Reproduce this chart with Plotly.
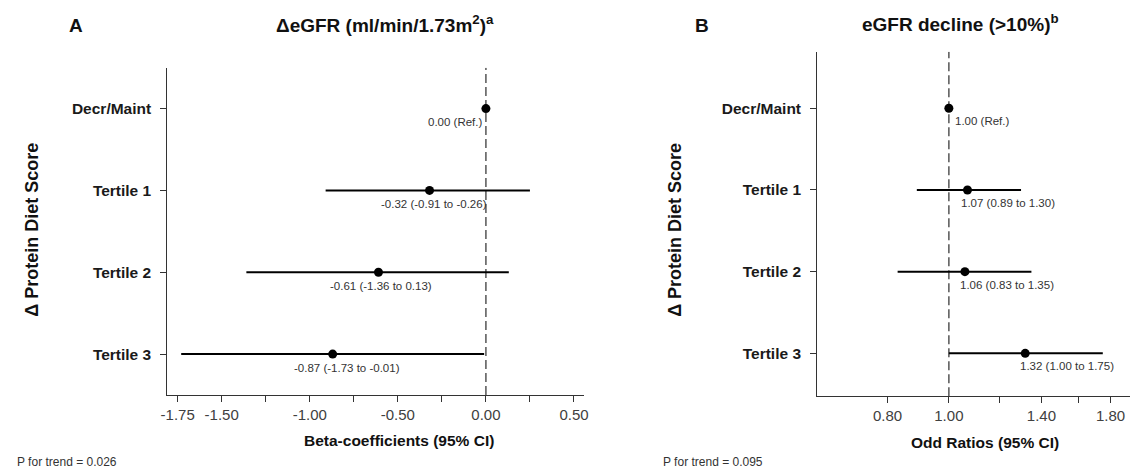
import numpy as np
import plotly.graph_objects as go

# ---------------- data ----------------
categories = ["Decr/Maint", "Tertile 1", "Tertile 2", "Tertile 3"]

beta_est = [0.00, -0.32, -0.61, -0.87]
beta_lo = [None, -0.91, -1.36, -1.73]
beta_hi = [None, 0.25, 0.13, -0.01]
beta_labels = ["0.00 (Ref.)", "-0.32 (-0.91 to -0.26)", "-0.61 (-1.36 to 0.13)", "-0.87 (-1.73 to -0.01)"]
beta_ref = 0.0

or_est = [1.00, 1.07, 1.06, 1.32]
or_lo = [None, 0.89, 0.83, 1.00]
or_hi = [None, 1.30, 1.35, 1.75]
or_labels = ["1.00 (Ref.)", "1.07 (0.89 to 1.30)", "1.06 (0.83 to 1.35)", "1.32 (1.00 to 1.75)"]
or_ref = 1.0

beta_tickvals = [-1.75, -1.50, -1.00, -0.50, 0.00, 0.50]
beta_ticktext = ["-1.75", "-1.50", "-1.00", "-0.50", "0.00", "0.50"]
beta_minor_ticks = [-1.25, -0.75, -0.25, 0.25]
or_tickvals = [0.80, 1.00, 1.40, 1.80]
or_ticktext = ["0.80", "1.00", "1.40", "1.80"]
or_minor_ticks = [1.20, 1.60]

p_trend_a = "P for trend = 0.026"
p_trend_b = "P for trend = 0.095"

# ---------------- styling ----------------
FONT = "Arial, 'Liberation Sans', sans-serif"
W, H = 1135, 470
n = len(categories)
ypos = [n - i for i in range(n)]
ya_range = [0.5, 4.5]
yb_range = [0.474, 4.693]

fig = go.Figure()

# reference dashed lines (drawn first so points sit on top)
fig.add_trace(go.Scatter(x=[beta_ref, beta_ref], y=ya_range, mode="lines", xaxis="x", yaxis="y",
                         line=dict(color="#555555", width=1.5, dash="9px,4px"),
                         showlegend=False, hoverinfo="skip"))
fig.add_trace(go.Scatter(x=[or_ref, or_ref], y=yb_range, mode="lines", xaxis="x2", yaxis="y2",
                         line=dict(color="#555555", width=1.5, dash="9px,4px"),
                         showlegend=False, hoverinfo="skip"))


def add_panel(est, lo, hi, xa, ya):
    xs, ys = [], []
    for e, l, h, y in zip(est, lo, hi, ypos):
        if l is None:
            continue
        xs += [l, h, None]
        ys += [y, y, None]
    fig.add_trace(go.Scatter(x=xs, y=ys, mode="lines", xaxis=xa, yaxis=ya,
                             line=dict(color="black", width=2), showlegend=False,
                             hoverinfo="skip"))
    fig.add_trace(go.Scatter(x=est, y=ypos, mode="markers", xaxis=xa, yaxis=ya,
                             marker=dict(color="black", size=9), showlegend=False))


add_panel(beta_est, beta_lo, beta_hi, "x", "y")
add_panel(or_est, or_lo, or_hi, "x2", "y2")

axis_line = dict(showline=True, linecolor="#333333", linewidth=1, ticks="outside",
                 ticklen=6, tickcolor="#333333", showgrid=False, zeroline=False,
                 mirror=False)
xtick_font = dict(family=FONT, size=15, color="#404040")
ytick_font = dict(family=FONT, size=15.5, color="#1a1a1a", weight="bold")

fig.update_layout(
    width=W, height=H,
    margin=dict(l=0, r=0, t=0, b=0),
    paper_bgcolor="white", plot_bgcolor="white",
    font=dict(family=FONT, color="#222222"),
    xaxis=dict(domain=[162 / W, 583 / W], range=[-1.809, 0.556],
               tickvals=beta_tickvals, ticktext=beta_ticktext,
               minor=dict(tickvals=beta_minor_ticks, ticks="outside", ticklen=6,
                          tickcolor="#333333", showgrid=False),
               tickfont=xtick_font, anchor="y", **axis_line),
    yaxis=dict(domain=[1 - 395 / H, 1 - 67.7 / H], range=ya_range,
               tickvals=ypos, ticktext=categories, anchor="x", ticklabelstandoff=6,
               tickfont=ytick_font, **axis_line),
    xaxis2=dict(type="log", domain=[818.8 / W, 1.0], range=[-0.2080, 0.2860],
                tickvals=or_tickvals, ticktext=or_ticktext,
                minor=dict(tickvals=or_minor_ticks, ticks="outside", ticklen=6,
                           tickcolor="#333333", showgrid=False),
                tickfont=xtick_font, anchor="y2", **axis_line),
    yaxis2=dict(domain=[1 - 396.3 / H, 1 - 51.7 / H], range=yb_range,
                tickvals=ypos, ticktext=categories, anchor="x2", ticklabelstandoff=6,
                tickfont=ytick_font, **axis_line),
)

# point labels
lab_font = dict(family=FONT, size=11.5, color="#333333")
a_anchor = ["right", "center", "center", "center"]
a_shift = [-1.5, 4.6, 2.2, 14]
for e, y, t, xa, xs in zip(beta_est, ypos, beta_labels, a_anchor, a_shift):
    fig.add_annotation(x=e, y=y, xref="x", yref="y", text=t, showarrow=False,
                       xanchor=xa, yanchor="middle", xshift=xs, yshift=-13.5, font=lab_font)
b_shift = [4, -8.5, -7, -7]
for e, y, t, xs in zip(or_est, ypos, or_labels, b_shift):
    fig.add_annotation(x=np.log10(e), y=y, xref="x2", yref="y2", text=t, showarrow=False,
                       xanchor="left", yanchor="middle", xshift=xs, yshift=-13, font=lab_font)


def ann(text, xp, yp, size, anchor="center", angle=0, color=None, weight="bold"):
    f = dict(family=FONT, size=size, color=color or "#111111", weight=weight)
    fig.add_annotation(x=xp / W, y=1 - yp / H, xref="paper", yref="paper", text=text,
                       showarrow=False, xanchor=anchor, yanchor="middle", textangle=angle,
                       font=f)


# titles and panel letters
ann("ΔeGFR (ml/min/1.73m<sup>2</sup>)<sup>a</sup>", 382.4, 24, 19)
ann("eGFR decline (>10%)<sup>b</sup>", 963.8, 23, 19)
ann("A", 69.4, 26, 19)
ann("B", 702.3, 25, 19)
# axis titles
ann("Beta-coefficients (95% CI)", 396, 440, 15.5)
ann("Odd Ratios (95% CI)", 988, 442.5, 15.5)
ann("Δ Protein Diet Score", 25, 230, 18, angle=-90)
ann("Δ Protein Diet Score", 675, 230, 18, angle=-90)
# p for trend
ann(p_trend_a, 8.3, 461.5, 12, anchor="left", color="#333333", weight="normal")
ann(p_trend_b, 661.4, 461.5, 12, anchor="left", color="#333333", weight="normal")

fig.write_html("out.html", config={"displayModeBar": False},
               post_script="document.body.style.margin='0';document.body.style.overflow='hidden';")
